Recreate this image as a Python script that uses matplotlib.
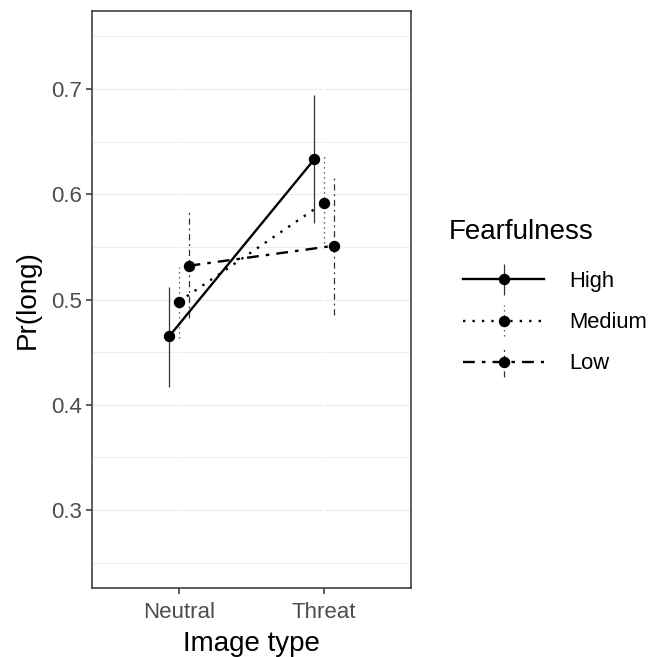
import numpy as np
import matplotlib
matplotlib.use("Agg")
import matplotlib.pyplot as plt
from matplotlib.container import ErrorbarContainer
from matplotlib.legend_handler import HandlerErrorbar

plt.rcParams['font.family'] = ['Liberation Sans', 'DejaVu Sans']

# image type categories and fearfulness groups
image_types = ["Neutral", "Threat"]
groups = ["High", "Medium", "Low"]

# estimated probabilities and error bar limits
pr_high = [0.465, 0.633]
lo_high = [0.417, 0.573]
hi_high = [0.512, 0.694]

pr_medium = [0.498, 0.592]
lo_medium = [0.463, 0.554]
hi_medium = [0.531, 0.636]

pr_low = [0.532, 0.551]
lo_low = [0.482, 0.485]
hi_low = [0.583, 0.617]

series = {
    "High": (pr_high, lo_high, hi_high),
    "Medium": (pr_medium, lo_medium, hi_medium),
    "Low": (pr_low, lo_low, hi_low),
}
dodge = {"High": -0.068, "Medium": 0.0, "Low": 0.066}
styles = {"High": "-", "Medium": (0, (1, 3)), "Low": (0, (5, 3, 1.5, 3))}

fig = plt.figure(figsize=(6.6, 6.57), dpi=100)
ax = fig.add_axes([92 / 660, 1 - 588 / 657, 319 / 660, 577 / 657])

x = np.arange(1, len(image_types) + 1)

# grid lines like theme_bw
for v in np.arange(0.25, 0.80, 0.05):
    ax.axhline(v, color="#ebebeb", lw=0.8 if round(v * 100) % 10 == 0 else 0.6, zorder=0)
for xi in x:
    ax.axvline(xi, color="white", lw=1.5, zorder=0.5)

handles = []
for g in groups:
    pr, lo, hi = series[g]
    pr = np.array(pr)
    yerr = [pr - np.array(lo), np.array(hi) - pr]
    cont = ax.errorbar(x + dodge[g], pr, yerr=yerr, fmt="o", color="black",
                       ms=7.2, lw=1.7, ls=styles[g], ecolor="#333333",
                       elinewidth=0.9, capsize=0, label=g, zorder=3)
    cont.lines[2][0].set_linestyle(styles[g])
    handles.append(cont)

ax.set_xlim(0.4, 2.6)
ax.set_ylim(0.226, 0.774)
ax.set_xticks(x)
ax.set_xticklabels(image_types)
ax.set_yticks([0.3, 0.4, 0.5, 0.6, 0.7])
ax.tick_params(colors="#333333", labelcolor="#4d4d4d", labelsize=16,
               length=4, width=1.1)
ax.tick_params(axis="x", pad=6)
for s in ax.spines.values():
    s.set_color("#333333")
    s.set_linewidth(1.1)

ax.set_xlabel("Image type", fontsize=20, labelpad=6)
ax.set_ylabel("Pr(long)", fontsize=20, labelpad=7)

# legend title placed on its own, a bit left of the keys like ggplot
fig.text(449 / 660, 1 - 232 / 657, "Fearfulness", fontsize=20,
         ha="left", va="center")
leg = fig.legend(handles=handles, labels=groups,
                 loc="upper left", bbox_to_anchor=(463 / 660, 1 - 271 / 657),
                 frameon=False, fontsize=15.8, borderpad=0, borderaxespad=0,
                 handlelength=3.7, handletextpad=1.15, labelspacing=0.92,
                 numpoints=1,
                 handler_map={ErrorbarContainer: HandlerErrorbar(yerr_size=0.72)})

fig.savefig("out.png", dpi=100)
